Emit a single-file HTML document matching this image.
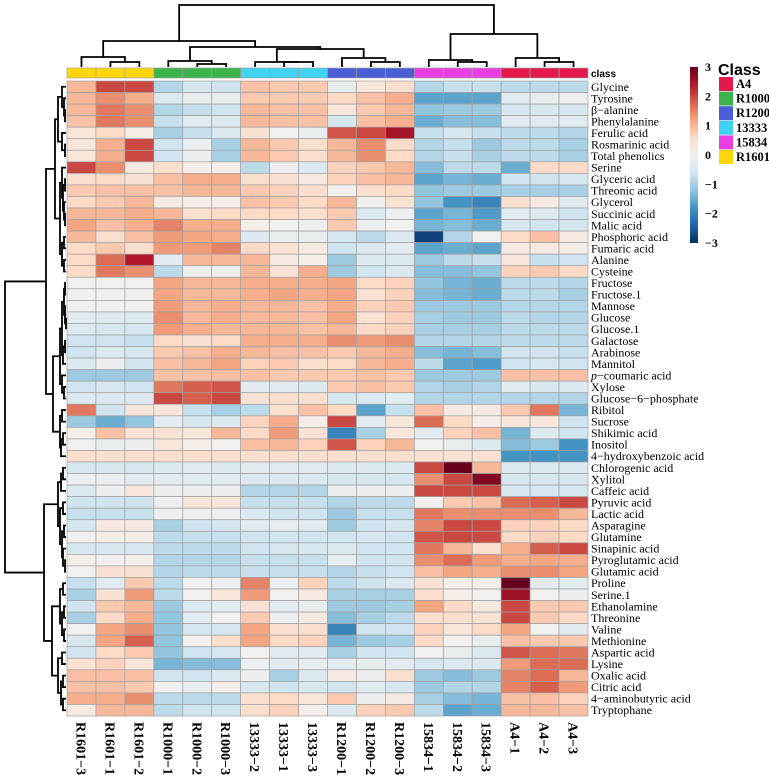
<!DOCTYPE html>
<html><head><meta charset="utf-8">
<style>
body{margin:0;background:#fff;width:769px;height:776px;overflow:hidden}
svg{display:block}
</style></head>
<body>
<svg id="chart" width="769" height="776" xmlns="http://www.w3.org/2000/svg">
<g id="cells"></g>
<g id="classbar"></g>
<g id="rowlabels"></g>
<g id="collabels"></g>
<g id="coldendro" stroke="#000" stroke-width="1.8" fill="none"></g>
<g id="rowdendro" stroke="#000" stroke-width="1.8" fill="none"></g>
<g id="legend"></g>
</svg>
<script>
const columns = ["R1601\u22123","R1601\u22121","R1601\u22122","R1000\u22121","R1000\u22122","R1000\u22123","13333\u22122","13333\u22121","13333\u22123","R1200\u22121","R1200\u22122","R1200\u22123","15834\u22121","15834\u22122","15834\u22123","A4\u22121","A4\u22122","A4\u22123"];
const columnClass = ["R1601","R1601","R1601","R1000","R1000","R1000","13333","13333","13333","R1200","R1200","R1200","15834","15834","15834","A4","A4","A4"];
const classNames = ["A4","R1000","R1200","13333","15834","R1601"];
const classColors = ["#e3194b","#3cb44b","#4a5fd6","#40d2f2","#e83ee4","#ffd60a"];
const rows = ["Glycine","Tyrosine","\u03b2\u2212alanine","Phenylalanine","Ferulic acid","Rosmarinic acid","Total phenolics","Serine","Glyceric acid","Threonic acid","Glycerol","Succinic acid","Malic acid","Phosphoric acid","Fumaric acid","Alanine","Cysteine","Fructose","Fructose.1","Mannose","Glucose","Glucose.1","Galactose","Arabinose","Mannitol","p\u2212coumaric acid","Xylose","Glucose\u22126\u2212phosphate","Ribitol","Sucrose","Shikimic acid","Inositol","4\u2212hydroxybenzoic acid","Chlorogenic acid","Xylitol","Caffeic acid","Pyruvic acid","Lactic acid","Asparagine","Glutamine","Sinapinic acid","Pyroglutamic acid","Glutamic acid","Proline","Serine.1","Ethanolamine","Threonine","Valine","Methionine","Aspartic acid","Lysine","Oxalic acid","Citric acid","4\u2212aminobutyric acid","Tryptophane"];
const values = [
[1.0,2.0,2.0,-0.9,-0.5,-0.6,0.9,0.8,0.8,-0.2,0.3,0.5,-0.9,-0.7,-0.7,-0.8,-0.8,-0.8],
[1.0,1.4,1.1,-0.4,-0.2,-0.2,0.8,0.8,0.8,0.6,0.9,1.1,-1.6,-1.6,-1.6,-0.3,-0.2,-0.1],
[1.0,1.6,1.4,-0.9,-0.7,-0.6,1.0,0.9,0.9,0.3,0.8,1.0,-1.2,-1.1,-1.1,-0.5,-0.5,-0.5],
[0.9,1.6,1.4,-0.7,-0.3,-0.4,1.0,0.9,0.9,-0.5,0.9,1.1,-1.5,-1.3,-1.3,-0.3,-0.3,-0.3],
[0.3,0.6,0.1,-1.0,-0.7,-0.4,0.4,0.0,-0.2,1.9,2.0,2.5,-0.7,-0.5,-0.7,-0.8,-0.8,-0.9],
[0.3,1.1,2.0,-0.6,-0.1,-1.0,1.0,0.8,0.5,1.0,1.4,0.6,-0.9,-0.7,-1.1,-0.8,-0.8,-1.0],
[0.3,1.1,2.0,-0.6,-0.1,-1.0,1.0,0.8,0.5,1.0,1.4,0.6,-0.9,-0.7,-1.0,-0.8,-0.8,-1.0],
[2.0,1.4,0.2,0.5,0.1,0.1,-0.8,-0.1,-0.4,0.7,0.8,1.0,-1.3,-0.8,-0.8,-1.5,0.6,0.6],
[0.5,0.6,0.4,0.9,1.1,1.1,0.5,0.4,0.2,0.7,0.9,1.0,-1.6,-1.4,-1.5,-0.6,-0.6,-0.5],
[0.8,0.9,0.9,0.9,1.0,1.0,0.8,0.7,0.5,0.0,0.5,0.6,-1.2,-1.1,-1.1,-1.0,-1.0,-1.0],
[0.6,0.8,1.0,0.2,0.1,0.1,0.9,0.8,0.6,1.0,0.0,0.4,-1.2,-1.8,-2.0,0.5,0.2,-0.3],
[1.0,1.0,1.1,1.0,0.5,0.6,0.6,0.6,0.5,0.8,-0.4,-0.1,-1.6,-1.4,-1.7,-0.3,-0.4,-0.6],
[1.2,0.9,1.1,1.5,1.1,1.1,0.1,0.0,-0.1,0.8,-0.1,0.0,-1.4,-1.3,-1.5,-0.5,-0.6,-0.5],
[1.0,0.5,0.9,1.3,1.2,1.1,-0.4,-0.2,-0.2,-0.5,-0.8,-0.4,-2.8,-0.9,0.0,0.6,0.9,0.2],
[0.6,0.8,0.5,1.3,1.3,1.5,0.6,0.4,0.2,-0.6,-0.4,-0.3,-1.6,-1.5,-1.6,0.2,0.2,0.1],
[0.6,1.7,2.4,-0.3,1.0,1.0,1.0,0.2,0.1,-1.1,-0.4,-0.4,-1.1,-0.8,-0.7,0.3,-0.7,-0.6],
[0.6,1.6,1.4,-0.8,-0.1,-0.1,1.0,0.4,1.1,-1.1,-0.6,-0.4,-1.3,-1.3,-1.2,0.7,0.8,0.6],
[0.0,0.0,0.0,1.2,1.0,1.0,1.1,1.1,1.1,1.2,0.6,0.7,-1.2,-1.4,-1.5,-0.8,-0.8,-0.9],
[0.0,0.0,0.0,1.2,1.0,1.0,1.1,1.2,1.1,1.2,0.4,0.7,-1.3,-1.4,-1.5,-0.8,-0.8,-1.0],
[0.0,0.0,0.0,1.3,1.0,1.1,1.0,1.0,0.9,1.1,0.7,0.8,-1.1,-1.1,-1.1,-0.9,-0.9,-0.9],
[-0.3,-0.4,-0.4,1.4,1.0,1.1,1.0,1.0,0.9,1.2,0.4,0.7,-1.0,-1.1,-1.1,-0.8,-0.9,-0.9],
[-0.4,-0.5,-0.5,1.3,1.1,1.0,1.0,1.0,0.9,1.0,0.6,0.7,-1.0,-1.0,-1.0,-0.8,-0.8,-0.8],
[-0.6,-0.6,-0.7,0.6,0.4,0.6,1.1,1.1,1.1,1.4,1.3,1.4,-0.9,-0.9,-0.9,-0.8,-0.8,-0.8],
[-0.6,-0.4,-0.5,0.8,0.9,1.1,1.0,0.9,0.9,0.8,1.0,1.1,-1.3,-1.4,-1.3,-0.6,-0.6,-0.7],
[-0.4,-0.1,-0.6,0.9,1.0,1.2,0.7,0.8,0.5,0.6,1.0,1.1,-0.8,-1.6,-1.7,-0.6,-0.5,-0.6],
[-1.1,-1.1,-1.1,0.9,0.9,0.9,0.9,0.8,0.8,0.8,0.9,0.8,-1.1,-1.1,-1.1,0.9,0.9,0.9],
[-0.6,-0.5,-0.6,1.6,1.8,1.9,-0.3,-0.3,-0.4,0.8,0.9,0.8,-0.9,-1.0,-0.9,-0.3,-0.5,-0.4],
[-0.4,-0.4,-0.4,2.0,1.8,2.0,0.4,0.5,0.5,-0.5,-0.4,-0.3,-0.9,-0.9,-0.9,-0.9,-0.9,-0.9],
[1.6,-0.6,0.3,0.3,-0.7,-1.0,-0.8,0.5,0.9,0.6,-1.6,-0.7,0.9,0.2,0.2,0.8,1.6,-1.4],
[-1.1,-1.5,-1.2,-0.3,-0.5,-0.4,0.7,1.1,0.1,2.0,-0.3,0.3,1.7,0.6,0.1,0.3,0.3,-0.6],
[0.1,0.9,0.4,0.4,0.3,1.0,0.6,1.3,0.4,-2.0,-1.0,0.3,-0.3,0.7,0.9,-1.4,-0.4,-0.6],
[0.0,-0.2,-0.1,0.3,0.1,0.0,0.9,1.0,0.7,1.9,0.7,1.0,0.0,-0.2,-0.4,-1.3,-1.1,-1.8],
[0.5,0.5,0.5,0.5,0.5,0.5,0.5,0.5,0.5,0.5,0.5,0.5,0.4,0.4,0.4,-1.8,-1.8,-1.8],
[-0.5,-0.5,-0.5,-0.4,-0.3,-0.4,-0.3,-0.3,-0.3,-0.4,-0.4,-0.4,2.0,3.0,1.0,-0.4,-0.4,-0.4],
[-0.1,-0.1,-0.3,-0.3,-0.3,-0.3,-0.4,-0.4,-0.4,-0.5,-0.5,-0.5,1.4,2.0,2.8,-0.5,-0.5,-0.5],
[-0.4,-0.1,0.3,-0.1,-0.1,-0.1,-0.9,-0.9,-0.9,-0.1,-0.1,-0.1,2.0,2.0,2.0,-0.5,-0.5,-0.5],
[-0.6,-0.6,-0.6,-0.1,0.3,0.3,-0.7,-0.7,-0.7,-0.9,-0.8,-0.8,0.0,0.8,0.9,1.7,1.8,2.0],
[-0.7,-0.7,-0.7,-0.1,-0.1,-0.1,-0.4,-0.6,-0.6,-1.1,-0.7,-0.7,1.6,1.4,1.4,1.4,1.4,1.0],
[-0.5,0.2,0.2,-1.0,-0.6,-0.5,-0.3,-0.2,-0.3,-1.1,-0.6,-0.5,1.5,2.0,2.0,0.7,0.7,0.6],
[0.0,0.1,0.1,-0.8,-0.7,-0.7,-0.6,-0.6,-0.6,-0.6,-0.5,-0.6,1.9,2.0,2.0,0.6,0.7,0.6],
[-0.5,-0.5,-0.5,-0.8,-0.8,-0.8,-0.6,-0.5,-0.5,-0.4,-0.6,-0.6,1.6,1.0,0.5,1.1,1.8,2.0],
[0.1,0.0,0.1,-0.9,-0.9,-0.9,-0.7,-0.7,-0.7,-0.2,-0.6,-0.6,1.4,1.7,1.3,1.1,1.2,1.1],
[0.0,0.4,0.4,-0.9,-0.8,-0.8,-0.7,-0.7,-0.7,-0.9,-0.7,-0.6,0.9,1.2,1.1,1.4,1.4,1.2],
[-0.7,-0.3,0.8,-0.8,0.0,-0.1,1.5,-0.1,0.7,-0.8,-0.6,-0.4,0.4,0.1,0.1,3.0,-0.3,-0.3],
[-1.0,0.4,1.3,-0.8,0.0,0.3,1.3,0.0,0.2,-1.0,-1.0,-1.0,0.5,0.1,0.0,2.6,0.0,-0.1],
[-0.6,0.8,1.0,-1.1,-0.4,-0.3,0.4,-0.3,-0.2,-1.1,-1.1,-1.0,1.2,0.6,0.2,2.0,0.8,0.8],
[-1.0,0.6,1.1,-1.2,-0.3,0.0,0.8,-0.1,0.2,-1.3,-1.0,-0.8,0.5,0.5,0.4,2.0,0.8,0.6],
[0.0,1.2,1.4,-1.2,-0.5,-0.5,1.2,0.5,0.5,-2.0,-0.6,-0.6,0.7,0.3,0.6,1.2,0.0,-0.3],
[-0.5,1.2,1.8,-1.2,0.0,0.5,1.2,0.6,0.7,-1.4,-1.1,-1.0,0.6,0.0,-0.2,0.9,0.8,0.8],
[-0.6,0.6,0.8,-1.2,-0.6,-0.5,0.0,-0.3,-0.3,-1.0,-0.6,-0.6,0.0,-0.2,-0.4,1.9,1.7,1.6],
[0.4,0.7,0.3,-1.4,-1.3,-1.3,-0.1,-0.3,-0.2,-0.3,-0.2,-0.3,-0.5,-0.4,-0.4,1.3,1.7,1.7],
[0.9,0.9,0.9,-0.6,-0.6,-0.4,-0.1,-1.0,-0.4,0.2,-0.1,0.5,-1.1,-1.3,-1.1,1.5,1.7,1.0],
[0.9,0.9,0.8,0.0,-0.2,0.1,-0.5,-0.6,-0.5,-0.6,-0.3,-0.5,-1.1,-0.9,-0.9,1.5,1.8,1.3],
[1.1,1.1,1.4,-0.8,-0.8,-0.8,0.5,0.6,0.3,0.8,-0.1,0.2,-1.0,-1.3,-1.4,0.9,0.9,0.7],
[0.2,1.0,1.0,-0.8,-0.6,-0.6,0.5,0.7,0.1,-0.4,0.7,0.8,-0.8,-1.6,-1.5,1.0,1.0,0.9]
];
const legendTicks = [3,2,1,0,-1,-2,-3];
const colTree = [5,[41,[57,0,[62,1,2]],[47,[61,3,[64,4,5]],[49,[62,6,[62,7,8]],[58,9,[62,10,11]]]]],[34,[60,12,[62,13,14]],[58,15,[62,16,17]]]];
const rowTree = [5,
 [46,[55,[58,[62,0,[64,1,[65,2,3]]],[62,4,[65,5,6]]],[60,[62,7,[63,[65,8,9],[64,10,[65,11,12]]]],[62,[64,13,14],[64,15,16]]]],
     [53,[60,[62,[64,[65,17,18],[65,19,[66,20,21]]],[63,[65,22,23],24]],[62,25,[64,26,27]]],[60,[62,28,29],[61,[63,30,31],32]]]],
 [44,[58,[61,[63,33,34],35],[60,[63,36,37],[62,[64,38,39],[63,40,[65,41,42]]]]],
     [52,[60,[63,43,44],[62,[64,45,46],[64,47,48]]],[58,[62,49,50],[61,[63,51,52],[63,53,54]]]]]];

const NS="http://www.w3.org/2000/svg";
const X0=67, X1=588, Y0=81, Y1=716;
const cw=(X1-X0)/columns.length, rh=(Y1-Y0)/rows.length;
const xC=i=>X0+cw*(i+0.5), yR=i=>Y0+rh*(i+0.5);
const stops=[[-3,[5,48,97]],[-2.4,[33,102,172]],[-1.8,[67,147,195]],[-1.2,[146,197,222]],[-0.6,[209,229,240]],[0,[242,240,239]],[0.6,[253,219,199]],[1.2,[244,165,130]],[1.8,[214,96,77]],[2.4,[178,24,43]],[3,[103,0,31]]];
function color(v){v=Math.max(-3,Math.min(3,v));for(let k=0;k<stops.length-1;k++){const a=stops[k],b=stops[k+1];if(v<=b[0]){const t=(v-a[0])/(b[0]-a[0]);const c=a[1].map((q,j)=>Math.round(q+(b[1][j]-q)*t));return `rgb(${c})`;}}return "rgb(103,0,31)";}
function mk(tag,attrs,parent){const e=document.createElementNS(NS,tag);for(const k in attrs)e.setAttribute(k,attrs[k]);parent.appendChild(e);return e;}

const gCells=document.getElementById('cells');
values.forEach((row,r)=>row.forEach((v,c)=>{
  const e=mk('rect',{x:X0+c*cw,y:Y0+r*rh,width:cw,height:rh,fill:color(v),stroke:'#a0a0a0','stroke-width':0.7},gCells);
  
  
}));
const gBar=document.getElementById('classbar');
columnClass.forEach((cl,c)=>{
  const e=mk('rect',{x:X0+c*cw,y:68,width:cw,height:10,fill:classColors[classNames.indexOf(cl)],stroke:'#a0a0a0','stroke-width':0.7},gBar);
  
  
});
const cls=mk('text',{x:591,y:77,'font-family':'Liberation Sans, sans-serif','font-size':10,'font-weight':'bold'},gBar);
cls.textContent='class';



const gRL=document.getElementById('rowlabels');
rows.forEach((n,r)=>{
  const t=mk('text',{x:591,y:yR(r)+4,'font-family':'Liberation Serif, serif','font-size':12},gRL);
  if(n.startsWith('p\u2212')){const s=mk('tspan',{'font-style':'italic'},t);s.textContent='p';const s2=mk('tspan',{},t);s2.textContent=n.slice(1);}
  else t.textContent=n;
  
  
});
const gCL=document.getElementById('collabels');
columns.forEach((n,c)=>{
  const t=mk('text',{x:0,y:0,transform:`translate(${xC(c)-5},722) rotate(90)`,'font-family':'Liberation Serif, serif','font-size':14,'font-weight':'bold'},gCL);
  t.textContent=n;
  
  
});

function drawTree(node,g,pos,leafH,vertical){
  if(typeof node==='number') return {p:pos(node),h:leafH};
  const a=drawTree(node[1],g,pos,leafH,vertical), b=drawTree(node[2],g,pos,leafH,vertical), h=node[0];
  let d;
  if(vertical) d=`M${a.p},${a.h}V${h}H${b.p}V${b.h}`;
  else d=`M${a.h},${a.p}H${h}V${b.p}H${b.h}`;
  const e=mk('path',{d},g);
  
  
  return {p:(a.p+b.p)/2,h};
}
drawTree(colTree,document.getElementById('coldendro'),xC,67,true);
drawTree(rowTree,document.getElementById('rowdendro'),yR,66,false);

const gL=document.getElementById('legend');
const defs=mk('defs',{},gL);
const grad=mk('linearGradient',{id:'cbar',x1:0,y1:0,x2:0,y2:1},defs);
stops.slice().reverse().forEach(s=>mk('stop',{offset:(3-s[0])/6,'stop-color':`rgb(${s[1]})`},grad));
const cbTop=67, cbBot=243;
const cb=mk('rect',{x:690,y:cbTop,width:8,height:cbBot-cbTop,fill:'url(#cbar)'},gL);


legendTicks.forEach(v=>{
  const y=cbTop+(3-v)/6*(cbBot-cbTop);
  const t=mk('text',{x:705,y:y+4,'font-family':'Liberation Serif, serif','font-size':12,'font-weight':'bold'},gL);
  t.textContent=v<0?'\u2212'+(-v):String(v);
  
  
});
const title=mk('text',{x:718,y:75,'font-family':'Liberation Sans, sans-serif','font-size':16,'font-weight':'bold'},gL);
title.textContent='Class';


classNames.forEach((n,i)=>{
  const y=77+i*14.6;
  const r=mk('rect',{x:719,y:y,width:14,height:14,fill:classColors[i]},gL);
  
  
  const t=mk('text',{x:736,y:y+11,'font-family':'Liberation Serif, serif','font-size':12.5,'font-weight':'bold'},gL);
  t.textContent=n;
  
  
});
</script>
</body></html>
